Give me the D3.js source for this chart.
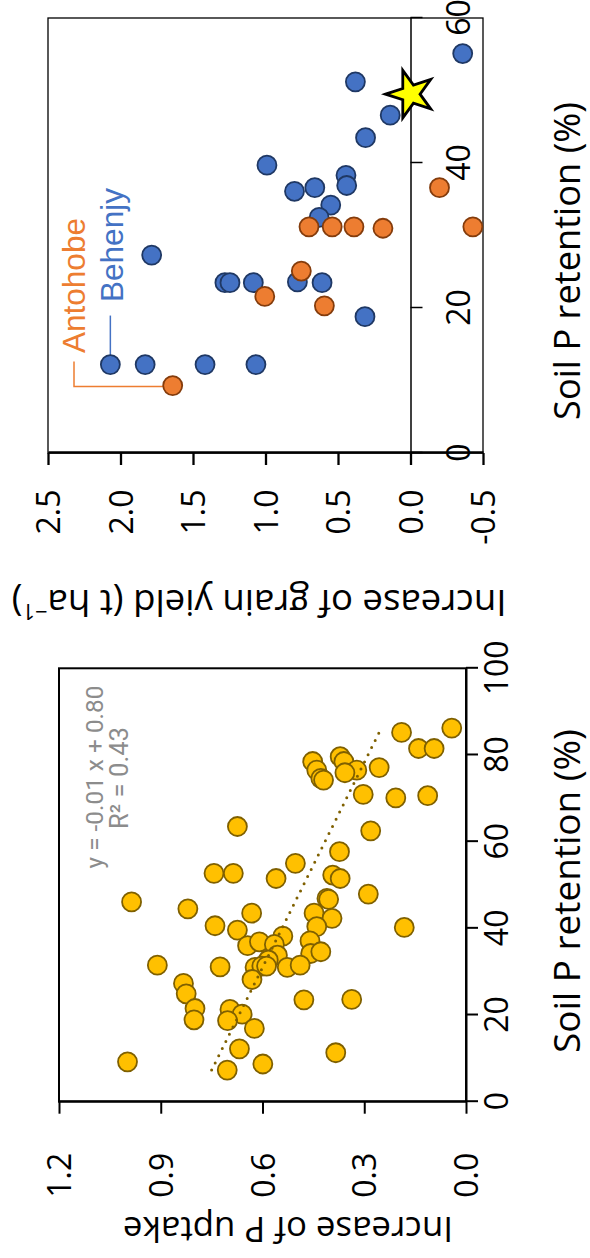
<!DOCTYPE html>
<html><head><meta charset="utf-8">
<script src="https://cdn.jsdelivr.net/npm/d3@7"></script>
<style>body{margin:0;background:#fff}svg{display:block}</style>
</head><body>
<script>
// ---------- Panel A: P uptake vs soil P retention ----------
const uptakeSoilP = [86.2,85.2,81.5,81.5,77.1,78.5,76.5,74.6,74.2,79.6,78.5,76.5,75.9,70.9,70.1,70.6,62.5,63.5,57.7,55.0,52.7,52.7,51.5,52.3,51.5,47.9,46.1,44.5,43.5,46.9,46.7,43.5,42.3,40.4,40.2,40.6,39.6,38.2,37.1,36.0,36.9,36.3,34.2,34.6,33.8,32.7,31.5,31.1,31.0,31.3,31.3,31.0,31.5,28.2,27.3,24.9,23.5,23.6,21.5,21.3,20.2,18.9,18.7,16.9,12.2,11.3,9.2,8.7,7.3];
const uptakeValues = [0.042,0.19,0.14,0.094,0.256,0.452,0.44,0.428,0.42,0.371,0.36,0.322,0.357,0.303,0.207,0.113,0.281,0.674,0.373,0.503,0.743,0.686,0.56,0.393,0.371,0.288,0.986,0.82,0.632,0.41,0.405,0.448,0.395,0.44,0.182,0.74,0.674,0.54,0.46,0.644,0.609,0.565,0.458,0.428,0.556,0.583,0.91,0.725,0.622,0.602,0.588,0.527,0.489,0.631,0.833,0.825,0.478,0.337,0.799,0.696,0.66,0.802,0.703,0.624,0.668,0.384,0.998,0.599,0.704];
const trendSoilP = [7.3, 86.0];
const trendUptake = [0.75, 0.251];
const uptakeXTicks = [0,20,40,60,80,100];
const uptakeYTicks = [0,0.3,0.6,0.9,1.2];
const equationLines = ["y = -0.01 x + 0.80", "R\u00B2 = 0.43"];

// ---------- Panel B: grain yield vs soil P retention ----------
const behenjySoilP = [55.1,51.2,46.6,43.5,39.7,38.3,36.9,36.1,36.6,34.2,32.5,27.3,23.5,23.5,23.5,23.6,23.5,18.8,12.2,12.2,12.2,12.2];
const behenjyYield = [-0.36,0.38,0.14,0.31,0.99,0.445,0.44,0.80,0.66,0.55,0.63,1.785,1.28,1.245,1.084,0.78,0.61,0.314,2.07,1.83,1.417,1.066];
const antohobeSoilP = [36.6,31.2,31.2,31.2,31.0,31.2,21.6,25.1,20.3,9.3];
const antohobeYield = [-0.20,0.70,0.54,0.39,0.19,-0.43,1.005,0.753,0.594,1.64];
const starSoilP = [49.5];
const starYield = [0.0];
const yieldXTicks = [0,20,40,60];
const yieldYTicks = [-0.5,0,0.5,1.0,1.5,2.0,2.5];
const seriesNames = ["Antohobe","Behenjy"];

const FONT = "'Open Sans','Noto Sans',sans-serif";
const fmt1 = v => v.toFixed(1);

const svg = d3.select("body").append("svg").attr("width",590).attr("height",1258);
const g = svg.append("g").attr("transform","translate(0,1258) rotate(-90)");

function fitText(sel, target){
  sel.style("font-size","100px");
  const L = sel.node().getComputedTextLength();
  sel.style("font-size",(100*target/L)+"px");
}

// ================= Panel A =================
const xA = d3.scaleLinear().domain([0,100]).range([156.3,589.7]);
const yA = d3.scaleLinear().domain([0,1.2]).range([466,59]);
const gA = g.append("g");

gA.append("rect").attr("x",xA(0)).attr("y",yA(1.2)).attr("width",xA(100)-xA(0)).attr("height",yA(0)-yA(1.2))
  .attr("fill","none").attr("stroke","#000").attr("stroke-width",2);

const axAx = gA.append("g").attr("transform",`translate(0,${yA(0)})`)
  .call(d3.axisBottom(xA).tickValues(uptakeXTicks).tickSize(12).tickSizeOuter(0).tickFormat(d3.format("d")));
const axAy = gA.append("g").attr("transform",`translate(${xA(0)},0)`)
  .call(d3.axisLeft(yA).tickValues(uptakeYTicks).tickSize(12).tickSizeOuter(0).tickFormat(fmt1));
[axAx,axAy].forEach(a=>{
  a.selectAll("path,line").attr("stroke","#000").attr("stroke-width",2);
  a.selectAll("text").attr("fill","#000").style("font-family",FONT).style("font-size","32px");
});
axAx.selectAll("text").attr("y",42).attr("dy",0);
axAy.selectAll("text").attr("x",-51).attr("dy","0.36em");

gA.append("g").selectAll("circle").data(uptakeSoilP.map((p,i)=>[p,uptakeValues[i]])).join("circle")
  .attr("cx",d=>xA(d[0])).attr("cy",d=>yA(d[1])).attr("r",9.5)
  .attr("fill","#FFC000").attr("stroke","#7F6000").attr("stroke-width",1.8);

gA.append("path").attr("d",d3.line().x(d=>xA(d[0])).y(d=>yA(d[1]))(trendSoilP.map((p,i)=>[p,trendUptake[i]])))
  .attr("fill","none").attr("stroke","#7F6000").attr("stroke-width",3)
  .attr("stroke-dasharray","0 8").attr("stroke-linecap","round");

const eq = gA.append("g").attr("fill","#8c8c8c").style("font-family","Roboto,sans-serif").attr("text-anchor","middle");
fitText(eq.append("text").attr("x",481).attr("y",103).text(equationLines[0]),183);
fitText(eq.append("text").attr("x",480).attr("y",128).text(equationLines[1]),102);

fitText(gA.append("text").attr("x",367).attr("y",580).attr("text-anchor","middle")
  .style("font-family",FONT).text("Soil P retention (%)"),324);
fitText(gA.append("text").attr("transform","translate(41,288) rotate(-90)").attr("text-anchor","middle")
  .style("font-family",FONT).text("Increase of P uptake"),330);

// ================= Panel B =================
const xB = d3.scaleLinear().domain([0,60]).range([805,1240]);
const yB = d3.scaleLinear().domain([-0.5,2.5]).range([483,48]);
const gB = g.append("g");

gB.append("rect").attr("x",xB(0)).attr("y",yB(2.5)).attr("width",xB(60)-xB(0)).attr("height",yB(-0.5)-yB(2.5))
  .attr("fill","none").attr("stroke","#000").attr("stroke-width",1.3);

const axBy = gB.append("g").attr("transform",`translate(${xB(0)},0)`)
  .call(d3.axisLeft(yB).tickValues(yieldYTicks).tickSize(12).tickSizeOuter(0).tickFormat(fmt1));
axBy.selectAll("path,line").attr("stroke","#000").attr("stroke-width",2.3);
axBy.selectAll("text").attr("fill","#000").style("font-family",FONT).style("font-size","32px")
  .attr("x",-36.5).attr("dy","0.36em");

const axBx = gB.append("g").attr("transform",`translate(0,${yB(0)})`)
  .call(d3.axisBottom(xB).tickValues(yieldXTicks).tickSize(12).tickSizeOuter(0).tickFormat(d3.format("d")));
axBx.selectAll("path,line").attr("stroke","#000").attr("stroke-width",1.5);
axBx.selectAll("text").attr("fill","#000").style("font-family",FONT).style("font-size","32px")
  .attr("y",470-yB(0)).attr("dy",0);

fitText(gB.append("text").attr("x",997).attr("y",580).attr("text-anchor","middle")
  .style("font-family",FONT).text("Soil P retention (%)"),318);
const yt = gB.append("text").attr("transform","translate(668,259) rotate(-90)").attr("text-anchor","middle")
  .style("font-family",FONT);
yt.append("tspan").text("Increase of grain yield (t ha");
yt.append("tspan").attr("baseline-shift","super").style("font-size","0.6em").text("\u22121");
yt.append("tspan").text(")");
fitText(yt,495);

// legend leaders
const bx = xB(behenjySoilP[18]), by = yB(behenjyYield[18]);
gB.append("line").attr("x1",bx+9).attr("x2",bx+49).attr("y1",by).attr("y2",by)
  .attr("stroke","#4472C4").attr("stroke-width",1.5);
const ox = xB(antohobeSoilP[9]), oy = yB(antohobeYield[9]);
gB.append("path").attr("d",`M${ox-1},${oy-9.5} V74 H${ox+24}`)
  .attr("fill","none").attr("stroke","#ED7D31").attr("stroke-width",1.5);

gB.append("g").selectAll("circle").data(behenjySoilP.map((p,i)=>[p,behenjyYield[i]])).join("circle")
  .attr("cx",d=>xB(d[0])).attr("cy",d=>yB(d[1])).attr("r",9.5)
  .attr("fill","#4472C4").attr("stroke","#1F3864").attr("stroke-width",1.8);
gB.append("g").selectAll("circle").data(antohobeSoilP.map((p,i)=>[p,antohobeYield[i]])).join("circle")
  .attr("cx",d=>xB(d[0])).attr("cy",d=>yB(d[1])).attr("r",9.5)
  .attr("fill","#ED7D31").attr("stroke","#843C0C").attr("stroke-width",1.8);

gB.append("g").selectAll("path").data(starSoilP.map((p,i)=>[p,starYield[i]])).join("path")
  .attr("transform",d=>`translate(${xB(d[0])},${yB(d[1])})`)
  .attr("d",d3.symbol(d3.symbolStar, 700)())
  .attr("fill","#FFFF00").attr("stroke","#000").attr("stroke-width",2.8).attr("stroke-linejoin","miter");

fitText(gB.append("text").attr("x",905).attr("y",85).attr("fill","#ED7D31")
  .style("font-family","'Liberation Sans',Arial,sans-serif").text(seriesNames[0]),135);
fitText(gB.append("text").attr("x",956).attr("y",123).attr("fill","#4472C4")
  .style("font-family","'Liberation Sans',Arial,sans-serif").text(seriesNames[1]),114);
</script>
</body></html>
